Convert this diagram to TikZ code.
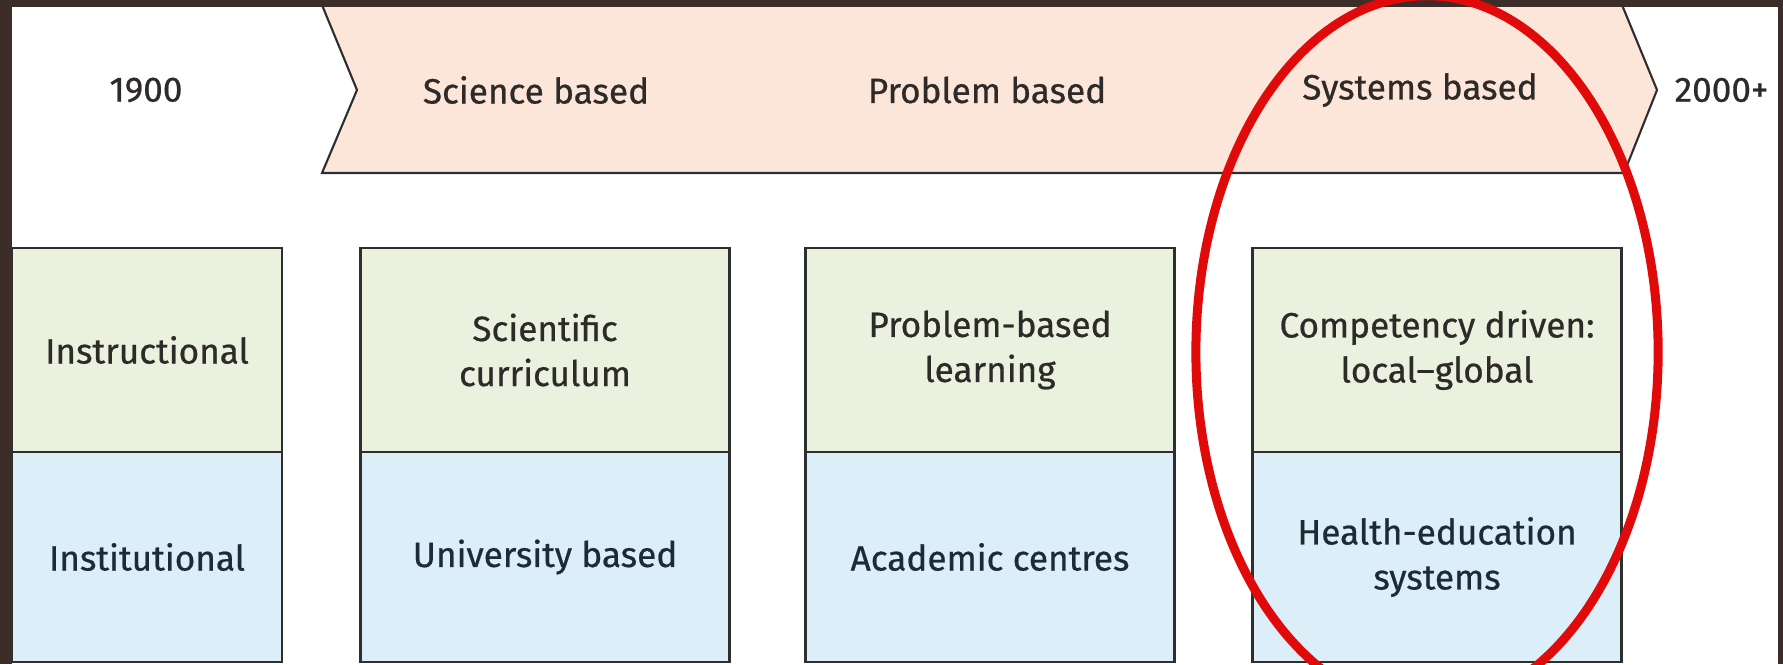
\documentclass[tikz,border=0pt]{standalone}
\usepackage{fontspec}
\setmainfont{Fira Sans}[FakeBold=0.6]
\usepackage{tikz}
\usetikzlibrary{shapes}
\usetikzlibrary{calc}

\definecolor{framebrown}{HTML}{3D2D28}
\definecolor{peach}{HTML}{FCE5D9}
\definecolor{instgreen}{HTML}{EAF1DE}
\definecolor{instblue}{HTML}{DCEEF7}
\definecolor{boxline}{HTML}{2E2E2E}
\definecolor{ink}{HTML}{2D2A28}
\definecolor{navyink}{HTML}{1D2B36}
\definecolor{ringred}{HTML}{E00A0A}

\begin{document}
\begin{tikzpicture}[x=0.01cm, y=-0.01cm,
  eratext/.style={font=\fontsize{10pt}{12.8pt}\selectfont, text=ink, align=center, inner sep=0pt},
  upper/.style={eratext, draw=boxline, line width=0.7pt, fill=instgreen, minimum width=3.69cm, minimum height=2.04cm},
  lower/.style={eratext, draw=boxline, line width=0.7pt, fill=instblue, minimum width=3.69cm, minimum height=2.10cm, text=navyink}]

\useasboundingbox (0,0) rectangle (1783,664);
\fill[white] (0,0) rectangle (1783,664);
\clip (0,0) rectangle (1783,664);

\draw[fill=peach, draw=boxline, line width=0.6pt] (322,5) -- (357,90) -- (322,173) -- (1624,173) -- (1657,90) -- (1622,5) -- cycle;

\node[eratext] (start) at (146,90) {1900};
\node[eratext] (science) at (536,90) {Science based};
\node[eratext] (problem) at (987,90) {Problem based};
\node[eratext] (systems) at (1420,90) {Systems based};
\node[eratext, anchor=west] (future) at (1674,90) {2000+};

\node[upper, minimum width=2.70cm] (instr1) at (147,350) {Instructional};
\node[upper] (instr2) at (545,350) {Scientific\\curriculum};
\node[upper] (instr3) at (990,350) {Problem-based\\learning};
\node[upper] (instr4) at (1437,350) {Competency driven:\\local--global};

\node[lower, minimum width=2.70cm] (inst1) at (147,557) {Institutional};
\node[lower] (inst2) at (545,557) {University based};
\node[lower] (inst3) at (990,557) {Academic centres};
\node[lower] (inst4) at (1437,557) {Health-education\\systems};

\fill[framebrown] (0,0) rectangle (1783,7);
\fill[framebrown] (0,0) rectangle (12,664);
\fill[framebrown] (1778,0) rectangle (1783,664);

\draw[ringred, line width=0.09cm] (1427,352) ellipse [x radius=2.31cm, y radius=3.56cm];

\end{tikzpicture}
\end{document}
